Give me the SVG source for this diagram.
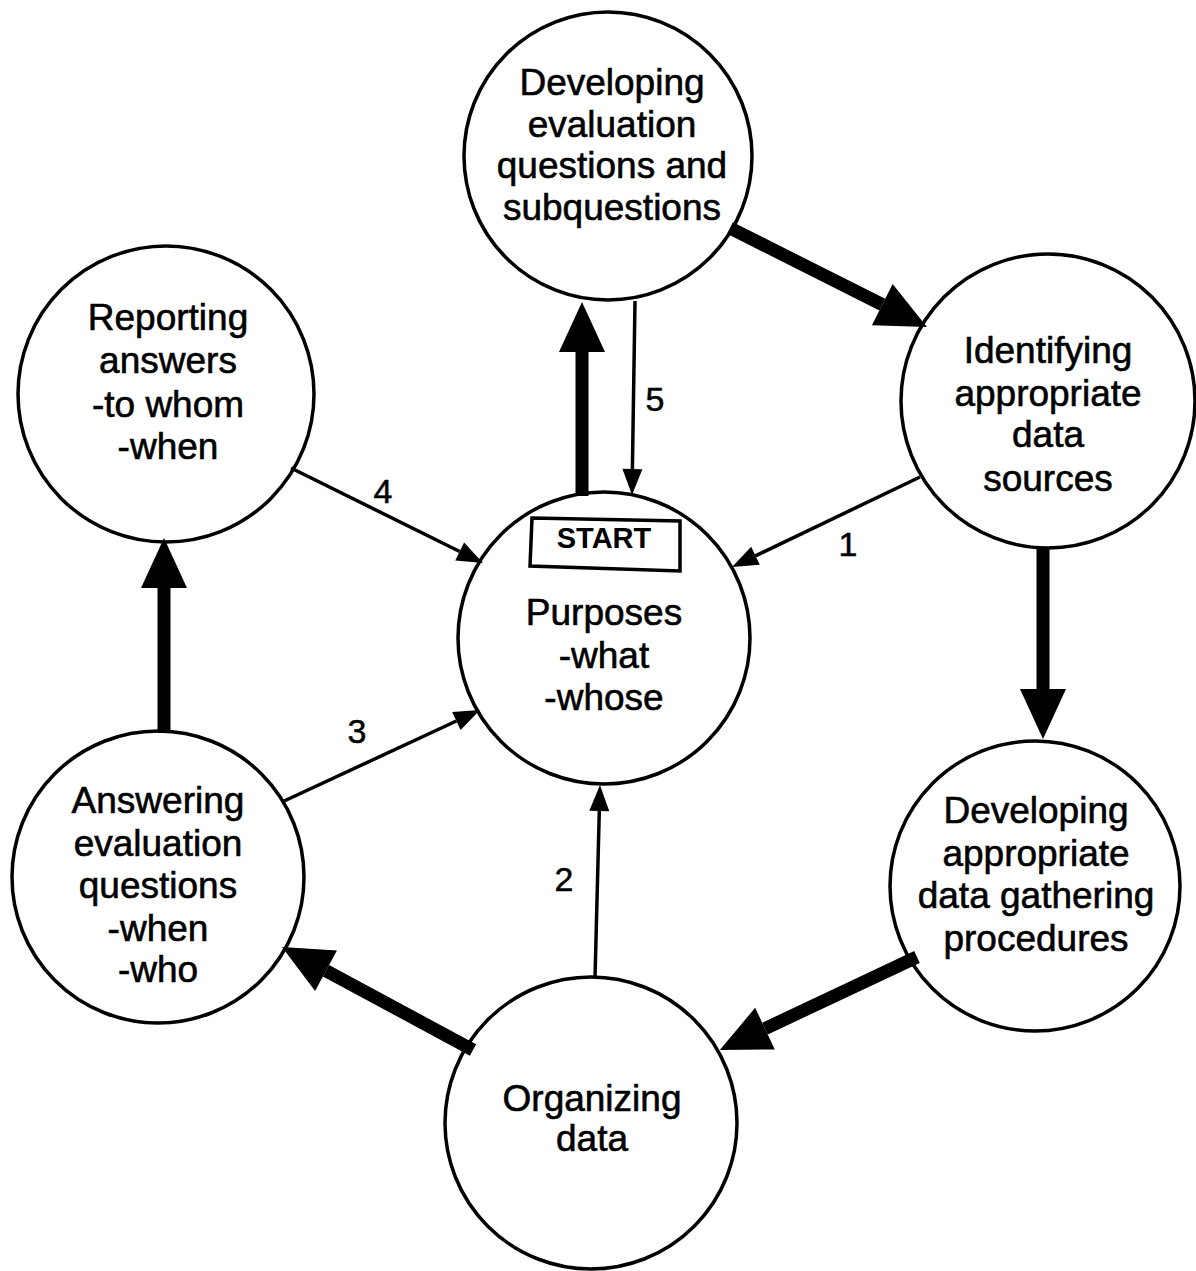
<svg xmlns="http://www.w3.org/2000/svg" width="1196" height="1271" viewBox="0 0 1196 1271">
<style>
.node circle{fill:#fff;stroke:#000;stroke-width:3.5}
.lbl{font-family:"Liberation Sans",Arial,sans-serif;font-size:37px;fill:#000;stroke:#000;stroke-width:0.6;text-anchor:middle}
.num{font-family:"Liberation Sans",Arial,sans-serif;font-size:34px;fill:#000;stroke:#000;stroke-width:0.5;text-anchor:middle}
.thick{stroke:#000;stroke-width:13;fill:none;marker-end:url(#hThick)}
.thin{stroke:#000;stroke-width:3.5;fill:none;marker-end:url(#hThin)}
</style>
<defs>
<marker id="hThick" markerUnits="userSpaceOnUse" markerWidth="50" markerHeight="46" refX="0" refY="23" orient="auto" overflow="visible"><path d="M0,0 L50,23 L0,46 z" fill="#000"/></marker>
<marker id="hThin" markerUnits="userSpaceOnUse" markerWidth="26" markerHeight="20" refX="0" refY="10" orient="auto" overflow="visible"><path d="M0,0 L26,10 L0,20 z" fill="#000"/></marker>
</defs>
<rect width="1196" height="1271" fill="#fff"/>
<g id="n-questions" class="node">
<circle cx="608" cy="156" r="144"/>
<text class="lbl" x="612" y="95">Developing</text>
<text class="lbl" x="612" y="137">evaluation</text>
<text class="lbl" x="612" y="178">questions and</text>
<text class="lbl" x="612" y="220">subquestions</text>
</g>
<g id="n-reporting" class="node">
<circle cx="166" cy="394" r="148"/>
<text class="lbl" x="168" y="330">Reporting</text>
<text class="lbl" x="168" y="373">answers</text>
<text class="lbl" x="168" y="417">-to whom</text>
<text class="lbl" x="168" y="459">-when</text>
</g>
<g id="n-sources" class="node">
<circle cx="1048" cy="401" r="147"/>
<text class="lbl" x="1048" y="363">Identifying</text>
<text class="lbl" x="1048" y="406">appropriate</text>
<text class="lbl" x="1048" y="447">data</text>
<text class="lbl" x="1048" y="491">sources</text>
</g>
<g id="n-purposes" class="node">
<circle cx="604" cy="638" r="146"/>
<polygon points="532,518 680,521 680,571 530,566" fill="#fff" stroke="#000" stroke-width="3.5"/>
<text x="604" y="548" font-family="'Liberation Sans',Arial,sans-serif" font-size="29" font-weight="bold" text-anchor="middle">START</text>
<text class="lbl" x="604" y="625">Purposes</text>
<text class="lbl" x="604" y="668">-what</text>
<text class="lbl" x="604" y="710">-whose</text>
</g>
<g id="n-answering" class="node">
<circle cx="158" cy="877" r="146"/>
<text class="lbl" x="158" y="813">Answering</text>
<text class="lbl" x="158" y="856">evaluation</text>
<text class="lbl" x="158" y="898">questions</text>
<text class="lbl" x="158" y="941">-when</text>
<text class="lbl" x="158" y="982">-who</text>
</g>
<g id="n-procedures" class="node">
<circle cx="1035" cy="886" r="145"/>
<text class="lbl" x="1036" y="823">Developing</text>
<text class="lbl" x="1036" y="866">appropriate</text>
<text class="lbl" x="1036" y="908">data gathering</text>
<text class="lbl" x="1036" y="951">procedures</text>
</g>
<g id="n-organizing" class="node">
<circle cx="591" cy="1123" r="146"/>
<text class="lbl" x="592" y="1111">Organizing</text>
<text class="lbl" x="592" y="1151">data</text>
</g>
<g id="connectors">
<line class="thick" x1="730" y1="228" x2="882.3" y2="304.6"/>
<line class="thick" x1="582" y1="496" x2="582" y2="352"/>
<line class="thick" x1="1043" y1="547" x2="1043" y2="689"/>
<line class="thick" x1="917" y1="957" x2="765" y2="1028.6"/>
<line class="thick" x1="473" y1="1050" x2="326" y2="970.7"/>
<line class="thick" x1="164" y1="733" x2="164" y2="588"/>
<line class="thin" x1="635" y1="301" x2="632.4" y2="469"/>
<line class="thin" x1="291" y1="468" x2="459.7" y2="551.5"/>
<line class="thin" x1="920" y1="477" x2="755.5" y2="555.8"/>
<line class="thin" x1="282" y1="802" x2="456.4" y2="721"/>
<line class="thin" x1="595" y1="978" x2="599.3" y2="811"/>
<text class="num" x="655" y="411" font-size="37">5</text>
<text class="num" x="383" y="503">4</text>
<text class="num" x="848" y="556">1</text>
<text class="num" x="357" y="743">3</text>
<text class="num" x="564" y="891">2</text>
</g>
</svg>
